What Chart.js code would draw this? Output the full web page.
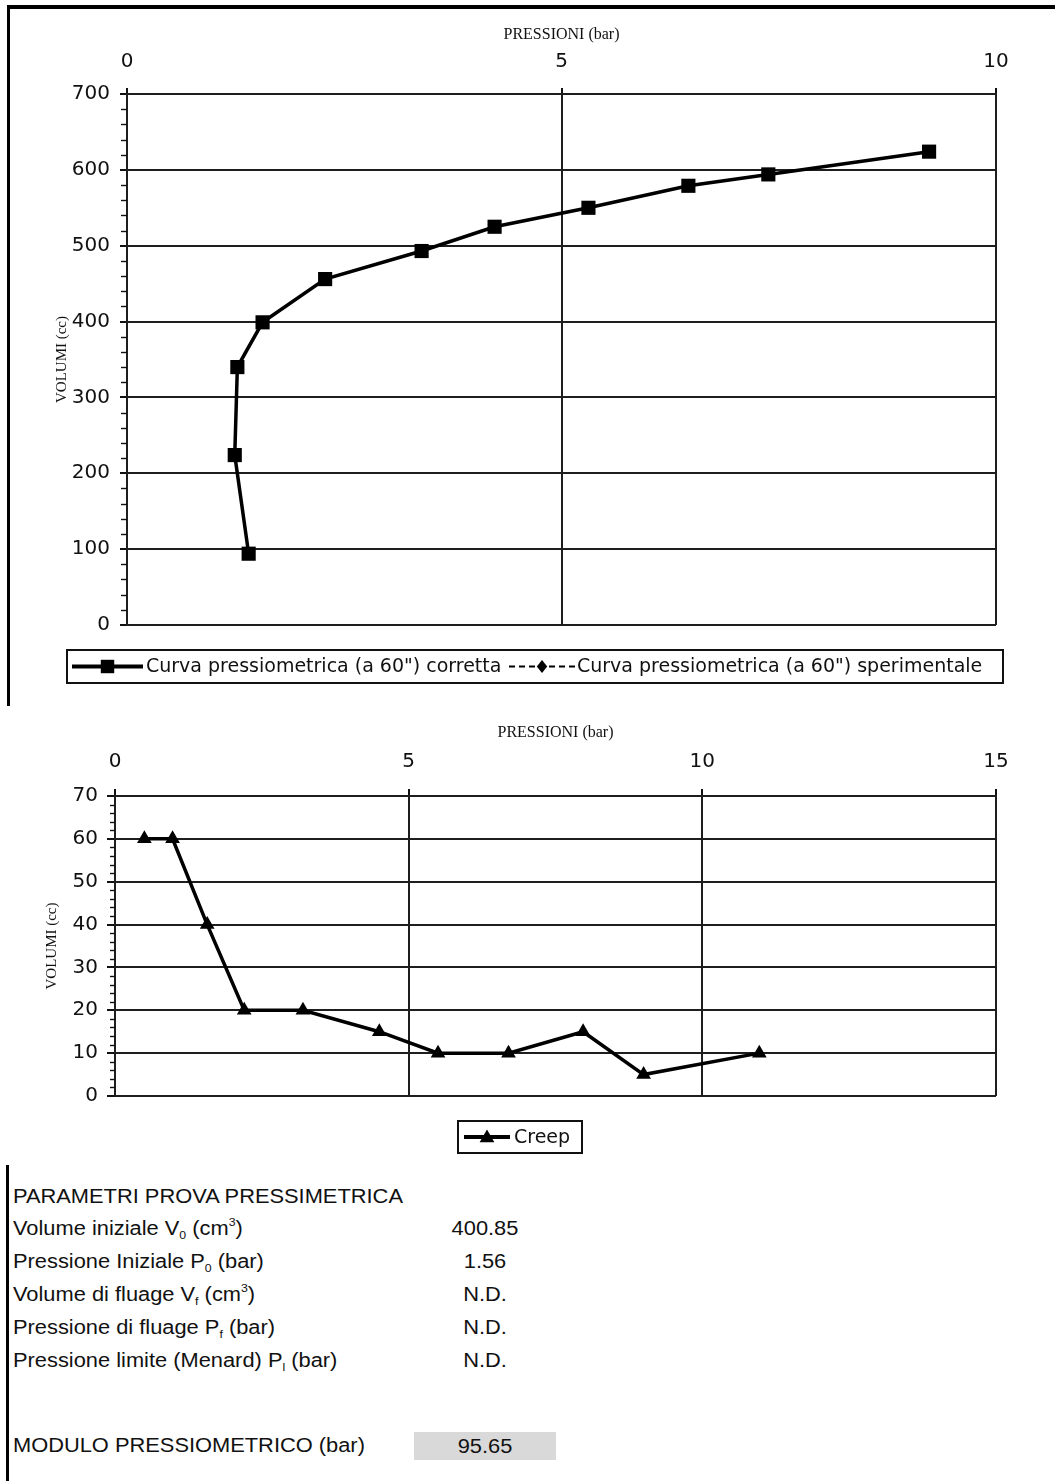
<!DOCTYPE html>
<html lang="it">
<head>
<meta charset="utf-8">
<title>Prova pressiometrica</title>
<script src="https://cdn.jsdelivr.net/npm/chart.js@4.4.1/dist/chart.umd.min.js"></script>
<style>
  html, body { margin: 0; padding: 0; background: #fff; }
  body { width: 1055px; height: 1481px; position: relative; overflow: hidden;
         font-family: "Liberation Sans", Arial, sans-serif; color: #111; }
  .rule { position: absolute; background: #000; }
  #wrap1 { position: absolute; left: 0; top: 0; width: 1055px; height: 700px; }
  #wrap2 { position: absolute; left: 0; top: 705px; width: 1055px; height: 460px; }
  .lbl { position: absolute; left: 13px; height: 26px; line-height: 26px; font-size: 19.5px;
         white-space: nowrap; transform: scaleX(1.12); transform-origin: 0 50%; }
  .val { position: absolute; left: 415px; width: 140px; height: 26px; line-height: 26px;
         font-size: 19.5px; text-align: center; transform: scaleX(1.12); transform-origin: 50% 50%; }
  .lbl sub, .lbl sup { font-size: 11px; line-height: 0; }
  .lbl sub { vertical-align: -4px; }
  .lbl sup { vertical-align: 9px; }
  #moduloBox { position: absolute; left: 414px; top: 1432px; width: 142px; height: 28px; background: #d9d9d9; }
</style>
</head>
<body>
<div class="rule" style="left:7px; top:5px; width:1048px; height:4px;"></div>
<div class="rule" style="left:7px; top:5px; width:3px; height:701px;"></div>
<div class="rule" style="left:6px; top:1165px; width:3px; height:316px;"></div>

<div id="wrap1"><canvas id="curva"></canvas></div>
<div id="wrap2"><canvas id="creep"></canvas></div>

<div id="moduloBox"></div>
<div id="parametri"></div>

<script>
// Curva pressiometrica corretta (pressione in bar, volume in cc)
const pressioniCorretta = [1.40, 1.24, 1.27, 1.56, 2.28, 3.39, 4.23, 5.31, 6.46, 7.38, 9.23];
const volumiCorretta    = [94, 224, 340, 399, 456, 493, 525, 550, 579, 594, 624];
// Curva sperimentale: nessun punto riportato
const pressioniSperimentale = [];
const volumiSperimentale    = [];
// Creep
const pressioniCreep = [0.50, 0.98, 1.57, 2.20, 3.20, 4.50, 5.50, 6.70, 7.97, 9.00, 10.97];
const volumiCreep    = [60, 60, 40, 20, 20, 15, 10, 10, 15, 5, 10];

const titoloPressioni = 'PRESSIONI (bar)';
const titoloVolumi = 'VOLUMI (cc)';
const nomeCorretta = 'Curva pressiometrica (a 60") corretta';
const nomeSperimentale = 'Curva pressiometrica (a 60") sperimentale';
const nomeCreep = 'Creep';

// Parametri della prova
const parametriTitolo = 'PARAMETRI PROVA PRESSIMETRICA';
const parametriNomi = [
  'Volume iniziale V<sub>0</sub> (cm<sup>3</sup>)',
  'Pressione Iniziale P<sub>0</sub> (bar)',
  'Volume di fluage V<sub>f</sub> (cm<sup>3</sup>)',
  'Pressione di fluage P<sub>f</sub> (bar)',
  'Pressione limite (Menard) P<sub>l</sub> (bar)'
];
const parametriValori = ['400.85', '1.56', 'N.D.', 'N.D.', 'N.D.'];
const moduloNome = 'MODULO PRESSIOMETRICO (bar)';
const moduloValore = '95.65';

const toPoints = (xs, ys) => xs.map((x, i) => ({ x: x, y: ys[i] }));

const INK = '#111';
const GRID = '#1e1e1e';
const tickFont = { family: '"DejaVu Sans", sans-serif', size: 20 };
const titleFontX = { family: '"Liberation Serif", "Times New Roman", serif', size: 16 };
const titleFontY = { family: '"Liberation Serif", "Times New Roman", serif', size: 15 };
const legendFont = '19px "DejaVu Sans", sans-serif';

// short minor tick marks on the left of the value axis
const minorTicks = {
  id: 'minorTicks',
  afterDraw(chart, args, o) {
    const s = chart.scales.y, ctx = chart.ctx;
    ctx.save();
    ctx.strokeStyle = INK;
    ctx.lineWidth = 1.4;
    const n = Math.round((s.max - s.min) / o.step);
    for (let i = 0; i <= n; i++) {
      const v = s.min + i * o.step;
      if (i % o.every === 0) continue;
      const y = Math.round(s.getPixelForValue(v)) + 0.5;
      ctx.beginPath();
      ctx.moveTo(s.right - o.length, y);
      ctx.lineTo(s.right, y);
      ctx.stroke();
    }
    ctx.restore();
  }
};

function drawMarker(ctx, style, x, y, r) {
  ctx.beginPath();
  if (style === 'rect') {
    const h = r * Math.SQRT1_2;
    ctx.rect(x - h, y - h, 2 * h, 2 * h);
  } else if (style === 'rectRot') {
    ctx.moveTo(x, y - r); ctx.lineTo(x + r * 0.8, y); ctx.lineTo(x, y + r); ctx.lineTo(x - r * 0.8, y);
    ctx.closePath();
  } else if (style === 'triangle') {
    for (let k = 0; k < 3; k++) {
      const a = k * 2 * Math.PI / 3;
      const px = x + Math.sin(a) * r, py = y - Math.cos(a) * r;
      if (k === 0) ctx.moveTo(px, py); else ctx.lineTo(px, py);
    }
    ctx.closePath();
  }
  ctx.fill();
}

// framed legend with line sample, marker and label for each series
const boxLegend = {
  id: 'boxLegend',
  afterDraw(chart, args, o) {
    const ctx = chart.ctx;
    ctx.save();
    ctx.strokeStyle = INK;
    ctx.lineWidth = 2;
    ctx.strokeRect(o.x, o.y, o.w, o.h);
    const cy = o.y + o.h / 2;
    chart.data.datasets.forEach((ds, i) => {
      const it = o.items[i];
      ctx.strokeStyle = ds.borderColor;
      ctx.lineWidth = it.lw;
      ctx.setLineDash(ds.borderDash || []);
      ctx.beginPath();
      ctx.moveTo(it.x, cy);
      ctx.lineTo(it.x + it.w, cy);
      ctx.stroke();
      ctx.setLineDash([]);
      ctx.fillStyle = ds.pointBackgroundColor;
      drawMarker(ctx, ds.pointStyle, it.x + it.w / 2, cy + (it.dy || 0), it.r);
      ctx.fillStyle = INK;
      ctx.font = legendFont;
      ctx.textBaseline = 'middle';
      ctx.textAlign = 'left';
      ctx.fillText(ds.label, it.tx, cy + 1);
    });
    ctx.restore();
  }
};

function axisX(max, step, padTick, tickLen, titlePad, height) {
  return {
    type: 'linear', position: 'top', min: 0, max: max,
    ticks: { stepSize: step, font: tickFont, color: INK, padding: padTick, maxRotation: 0 },
    grid: { color: GRID, lineWidth: 2, tickLength: tickLen, tickColor: INK },
    border: { color: GRID, width: 2 },
    title: { display: true, text: titoloPressioni, font: titleFontX, color: INK, padding: { top: titlePad, bottom: 0 } },
    afterFit(s) { s.height = height; }
  };
}
function axisY(max, step, padTick, tickLen, titlePad, width) {
  return {
    type: 'linear', position: 'left', min: 0, max: max,
    ticks: { stepSize: step, font: tickFont, color: INK, padding: padTick },
    grid: { color: GRID, lineWidth: 2, tickLength: tickLen, tickColor: INK },
    border: { color: GRID, width: 2 },
    title: { display: true, text: titoloVolumi, font: titleFontY, color: INK, padding: { top: titlePad, bottom: 0 } },
    afterFit(s) { s.width = width; }
  };
}

new Chart(document.getElementById('curva'), {
  type: 'scatter',
  data: {
    datasets: [
      { label: nomeCorretta, data: toPoints(pressioniCorretta, volumiCorretta), showLine: true,
        borderColor: '#000', borderWidth: 3.5, pointStyle: 'rect', pointRadius: 10,
        pointBackgroundColor: '#000', pointBorderWidth: 0 },
      { label: nomeSperimentale, data: toPoints(pressioniSperimentale, volumiSperimentale), showLine: true,
        borderColor: '#000', borderWidth: 2, borderDash: [6, 4], pointStyle: 'rectRot', pointRadius: 6,
        pointBackgroundColor: '#000', pointBorderWidth: 0 }
    ]
  },
  options: {
    responsive: true, maintainAspectRatio: false, animation: false,
    layout: { padding: { left: 0, right: 59, top: 0, bottom: 75 } },
    plugins: {
      legend: { display: false }, tooltip: { enabled: false },
      minorTicks: { step: 20, every: 5, length: 6 },
      boxLegend: { x: 67, y: 650, w: 936, h: 33, items: [
        { x: 72, w: 71, r: 9.5, lw: 4, tx: 146 },
        { x: 509, w: 66, r: 6.5, lw: 2, tx: 577 }
      ] }
    },
    scales: {
      x: axisX(10, 5, 14, 6, 25.4, 94),
      y: axisY(700, 100, 10, 7, 53, 127)
    }
  },
  plugins: [minorTicks, boxLegend]
});

new Chart(document.getElementById('creep'), {
  type: 'scatter',
  data: {
    datasets: [
      { label: nomeCreep, data: toPoints(pressioniCreep, volumiCreep), showLine: true,
        borderColor: '#000', borderWidth: 3.5, pointStyle: 'triangle', pointRadius: 8.5,
        pointBackgroundColor: '#000', pointBorderWidth: 0 }
    ]
  },
  options: {
    responsive: true, maintainAspectRatio: false, animation: false,
    layout: { padding: { left: 0, right: 59, top: 0, bottom: 69 } },
    plugins: {
      legend: { display: false }, tooltip: { enabled: false },
      minorTicks: { step: 2, every: 5, length: 5 },
      boxLegend: { x: 458, y: 416, w: 124, h: 32, items: [
        { x: 464, w: 46, r: 8.5, lw: 4, tx: 514, dy: 1 }
      ] }
    },
    scales: {
      x: axisX(15, 5, 15, 7, 18.4, 91),
      y: axisY(70, 10, 9, 8, 43, 115)
    }
  },
  plugins: [minorTicks, boxLegend]
});

// tabella dei parametri
(function () {
  const host = document.getElementById('parametri');
  const rowTop = c => (c - 13) + 'px';
  const add = (cls, html, centre) => {
    const d = document.createElement('div');
    d.className = cls;
    d.innerHTML = html;
    d.style.top = rowTop(centre);
    host.appendChild(d);
  };
  add('lbl', parametriTitolo, 1196);
  const centres = [1228, 1261, 1294, 1327, 1360];
  parametriNomi.forEach((n, i) => {
    add('lbl', n, centres[i]);
    add('val', parametriValori[i], centres[i]);
  });
  add('lbl', moduloNome, 1445);
  add('val', moduloValore, 1446);
})();
</script>
</body>
</html>
